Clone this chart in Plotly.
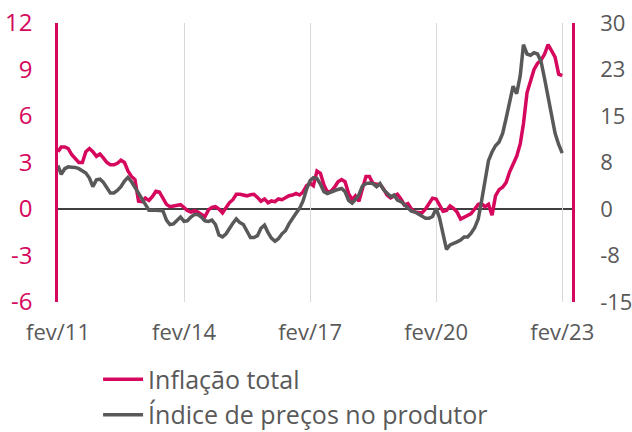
import plotly.graph_objects as go
import pandas as pd

# Monthly data, Feb/2011 .. Feb/2023
dates = pd.date_range("2011-02-01", periods=145, freq="MS")

inflacao_total = [
    3.7, 4.0, 4.0, 3.9, 3.5, 3.25, 3.0, 3.0, 3.7, 3.9, 3.7, 3.4,
    3.55, 3.3, 3.0, 2.85, 2.85, 2.95, 3.15, 3.0, 2.45, 2.1, 1.9, 0.5,
    0.47, 0.7, 0.55, 0.8, 1.15, 1.1, 0.7, 0.3, 0.15, 0.2, 0.28, 0.28,
    0.1, -0.1, -0.2, -0.1, -0.2, -0.35, -0.5, -0.06, 0.1, 0.15, 0.0, -0.25,
    0.05, 0.4, 0.6, 0.95, 0.95, 0.9, 0.85, 0.92, 0.95, 0.75, 0.5, 0.65,
    0.4, 0.52, 0.47, 0.65, 0.6, 0.72, 0.86, 0.9, 1.0, 0.9, 1.1, 1.5,
    1.66, 1.5, 2.45, 2.3, 1.55, 1.1, 1.15, 1.4, 1.75, 1.9, 1.76, 1.0,
    0.6, 0.85, 0.5, 1.3, 2.1, 2.1, 1.65, 1.6, 1.6, 1.3, 0.9, 0.72,
    0.85, 0.95, 0.65, 0.26, 0.35, 0.0, -0.2, -0.2, -0.25, 0.0, 0.3, 0.7,
    0.65, 0.3, -0.15, -0.1, 0.2, 0.05, -0.2, -0.65, -0.55, -0.45, -0.3, 0.0,
    0.3, 0.35, 0.15, 0.3, -0.4, 0.85, 1.25, 1.4, 1.7, 2.4, 2.85, 3.4,
    4.2, 5.5, 7.5, 8.2, 9.0, 9.4, 9.6, 10.0, 10.6, 10.2, 9.8, 8.7,
    8.6,
]

indice_produtor = [
    7.0, 5.6, 6.5, 6.8, 6.75, 6.7, 6.5, 6.2, 5.8, 5.0, 3.6, 4.7,
    4.8, 4.3, 3.3, 2.6, 2.6, 3.0, 3.6, 4.5, 5.1, 4.4, 3.5, 2.5,
    1.5, 0.7, -0.2, -0.15, -0.2, -0.2, -0.3, -1.8, -2.5, -2.4, -1.9, -1.3,
    -2.0, -1.9, -1.3, -0.9, -0.9, -1.3, -1.9, -2.0, -1.8, -2.5, -4.2, -4.5,
    -4.0, -3.1, -2.3, -1.6, -2.2, -2.5, -3.6, -4.6, -4.6, -4.3, -3.1, -2.6,
    -3.8, -4.7, -5.2, -4.8, -4.0, -3.5, -2.4, -1.4, -0.7, 0.1, 1.3, 3.2,
    4.6, 5.05, 4.9, 4.0, 2.8, 2.5, 2.75, 3.0, 3.15, 3.3, 2.8, 1.4,
    0.95, 1.5, 2.3, 3.7, 4.1, 4.2, 4.1, 3.6, 4.1, 3.1, 2.5, 2.0,
    2.26, 1.45, 1.2, 0.7, 0.1, -0.35, -0.5, -0.85, -1.2, -1.5, -1.5, -1.2,
    0.1, -1.4, -4.0, -6.5, -5.8, -5.6, -5.3, -5.0, -4.5, -4.5, -3.9, -3.0,
    -1.6, 1.2, 5.0, 7.8, 9.2, 10.2, 10.8, 12.2, 14.6, 17.4, 19.8, 18.6,
    21.5, 26.5, 25.0, 24.8, 25.2, 25.0, 23.8, 21.0, 18.2, 15.2, 12.2, 10.4,
    9.0,
]

x_tickvals = ["2011-02-01", "2014-02-01", "2017-02-01", "2020-02-01", "2023-02-01"]
x_ticktext = ["fev/11", "fev/14", "fev/17", "fev/20", "fev/23"]
y1_tickvals = [-6, -3, 0, 3, 6, 9, 12]
y1_ticktext = ["-6", "-3", "0", "3", "6", "9", "12"]
y2_tickvals = [-15, -7.5, 0, 7.5, 15, 22.5, 30]
y2_ticktext = ["-15", "-8", "0", "8", "15", "23", "30"]

PINK = "#D5085D"
GRAY = "#595959"
FONT = "Open Sans"

fig = go.Figure()
fig.add_trace(go.Scatter(x=dates, y=inflacao_total, name="Inflação total",
                         mode="lines", line=dict(color=PINK, width=3.5), yaxis="y"))
fig.add_trace(go.Scatter(x=dates, y=indice_produtor, name="Índice de preços no produtor",
                         mode="lines", line=dict(color=GRAY, width=3.5), yaxis="y2"))

fig.add_shape(type="line", xref="paper", yref="y", x0=0, x1=1, y0=0, y1=0,
              line=dict(color="black", width=1.5), layer="below")

fig.update_layout(
    width=632, height=432,
    margin=dict(l=58, r=60, t=23, b=130, autoexpand=False),
    plot_bgcolor="white", paper_bgcolor="white",
    font=dict(family=FONT, color=GRAY, size=20),
    showlegend=True,
    legend=dict(orientation="v", x=0.078, xanchor="left", y=-0.195, yanchor="top",
                font=dict(size=25, color=GRAY), tracegroupgap=0,
                bgcolor="rgba(0,0,0,0)", itemwidth=40),
    xaxis=dict(type="date", range=["2011-02-01", "2023-04-27"],
               tickvals=x_tickvals, ticktext=x_ticktext,
               showgrid=True, gridcolor="#D9D9D9", gridwidth=1,
               showline=False, zeroline=False, ticks="", automargin=False,
               ticklabelstandoff=15, ticklabeloverflow="allow",
               tickfont=dict(size=22, color=GRAY, family=FONT)),
    yaxis=dict(range=[-6, 12], tickvals=y1_tickvals, ticktext=y1_ticktext,
               showgrid=False, zeroline=False, automargin=False,
               showline=True, linecolor=PINK, linewidth=2.5,
               ticks="", ticklabelstandoff=18, ticklabeloverflow="allow",
               tickfont=dict(size=24, color=PINK, family=FONT)),
    yaxis2=dict(range=[-15, 30], tickvals=y2_tickvals, ticktext=y2_ticktext,
                overlaying="y", side="right", automargin=False,
                showgrid=False, zeroline=False,
                showline=True, linecolor=PINK, linewidth=2.5,
                ticks="", ticklabelstandoff=21, ticklabeloverflow="allow",
                tickfont=dict(size=22, color=GRAY, family=FONT)),
)

fig.write_html("out.html",
               config={"displayModeBar": False},
               post_script="document.body.style.margin='0px';document.body.style.overflow='hidden';")
